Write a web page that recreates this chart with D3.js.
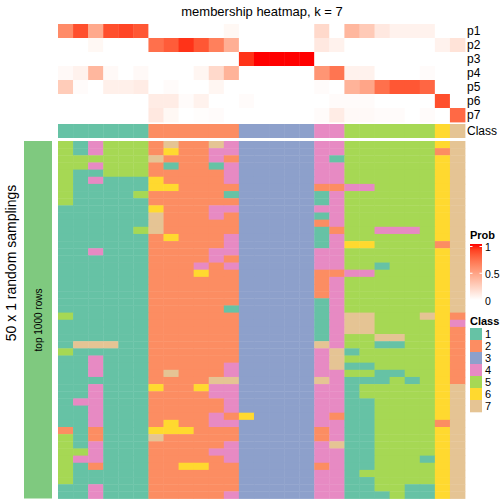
<!DOCTYPE html>
<html><head><meta charset="utf-8">
<script src="https://cdn.jsdelivr.net/npm/d3@7"></script>
<style>body{margin:0;background:#fff}</style>
</head><body>
<svg id="c" width="504" height="504"></svg>
<script>
// ---- data ----
const classes = [1,2,3,4,5,6,7];
const classColors = ["#66C2A5","#FC8D62","#8DA0CB","#E78AC3","#A6D854","#FFD92F","#E5C494"];
const probNames = ["p1","p2","p3","p4","p5","p6","p7"];
const p1 = [0.6,0.85,0.45,0.85,0.88,0.82, 0,0,0,0,0,0.04, 0,0,0,0,0, 0.2,0, 0.38,0.28,0.12,0.07,0.07,0.07, 0,0];
const p2 = [0,0,0.04,0,0,0, 0.72,0.8,0.93,0.82,0.65,0.42, 0,0,0,0,0, 0.12,0.07, 0,0,0,0,0,0, 0.07,0.15];
const p3 = [0,0,0,0,0,0, 0,0,0,0,0,0, 0.93,1,1,1,1, 0,0, 0,0,0,0,0,0, 0,0];
const p4 = [0.03,0.07,0.38,0.03,0,0.03, 0,0,0,0.05,0.2,0.4, 0,0,0,0,0, 0.55,0.7, 0.07,0.07,0,0,0,0.02, 0,0];
const p5 = [0.27,0.02,0,0.08,0.08,0.1, 0,0.02,0,0,0.05,0, 0,0,0,0,0, 0.02,0, 0.4,0.47,0.72,0.82,0.82,0.76, 0,0];
const p6 = [0,0,0,0,0,0, 0.1,0.1,0.02,0.07,0,0, 0.02,0,0,0,0, 0,0.02, 0.02,0.02,0,0,0,0, 0.85,0];
const p7 = [0,0,0,0,0,0, 0.12,0.04,0,0.01,0.02,0, 0,0,0,0,0, 0.02,0.1, 0.03,0.03,0.02,0.02,0,0.02, 0,0.75];
const columnClass = [1,1,1,1,1,1, 2,2,2,2,2,2, 3,3,3,3,3, 4,4, 5,5,5,5,5,5, 6, 7];
// class assignment for each of the 50 random samplings (rows) x 27 samples (columns)
const samplingRows = [
"514555 272274 33333 44 555555 6 7",
"514555 262244 33333 44 555555 2 7",
"555555 722242 33333 41 555555 6 7",
"554555 212214 33333 44 555555 6 7",
"511555 222224 33333 44 555555 6 7",
"514111 622224 33333 44 555555 6 7",
"511111 662222 33333 22 445555 6 7",
"511115 222221 33333 14 555555 6 7",
"511111 222222 33333 14 555555 6 7",
"111111 622244 33333 44 555555 6 7",
"111111 722242 33333 14 555555 6 7",
"111111 722222 33333 24 555555 6 7",
"111115 722222 33333 12 554445 6 7",
"111111 262224 33333 14 555555 6 7",
"111111 222224 33333 14 665555 2 7",
"114111 222244 33333 44 555555 6 7",
"111111 222242 33333 44 555555 6 7",
"111111 222424 33333 44 551555 6 7",
"111111 222622 33333 22 445555 6 7",
"111111 222222 33333 24 555555 6 7",
"111111 222222 33333 24 555555 6 7",
"111111 222222 33333 24 555555 6 7",
"111111 222222 33333 14 555555 6 7",
"111111 222221 33333 14 555555 6 7",
"511111 222222 33333 14 775557 6 2",
"111111 222222 33333 14 775555 6 4",
"111111 222222 33333 14 775555 6 2",
"111111 222222 33333 14 557755 6 2",
"177711 222222 33333 74 551155 6 2",
"511111 222222 33333 47 155555 6 2",
"114111 222222 33333 47 555555 6 2",
"114111 222224 33333 47 115555 6 2",
"114111 272224 33333 44 551155 6 2",
"111111 222277 33333 74 111515 6 2",
"114111 622644 33333 44 155555 6 7",
"114111 222244 33333 44 155555 6 7",
"144111 222224 33333 44 115555 6 7",
"114111 222224 33333 44 115555 6 7",
"114111 222242 63333 42 115555 6 7",
"114111 262244 33333 44 115555 2 7",
"212111 666222 33333 24 115555 6 7",
"512111 722222 33333 24 115555 6 7",
"514111 222224 33333 47 115555 6 7",
"554111 222244 33333 44 115555 6 7",
"544111 222224 33333 44 115551 6 7",
"512111 226622 33333 24 115555 6 7",
"511111 222222 33333 44 155555 6 7",
"511111 222222 33333 44 115555 6 7",
"114111 222222 33333 44 115511 6 7",
"114111 222224 33333 44 111511 6 7"
];
const legendTicks = [0, 0.5, 1];
const titleText = "membership heatmap, k = 7";

// ---- drawing ----
const svg = d3.select("#c");
const font = "'Liberation Sans', Arial, sans-serif";
const nCol = columnClass.length;
const probMatrix = [p1,p2,p3,p4,p5,p6,p7];
const grid = samplingRows.map(s => s.replace(/\s+/g,"").split("").map(Number));

const x = d3.scaleBand().domain(d3.range(nCol)).range([58, 465]);
const yP = d3.scaleBand().domain(probNames).range([24, 122]);
const yR = d3.scaleBand().domain(d3.range(grid.length)).range([141, 498.5]);
const cCol = d3.scaleOrdinal().domain(classes).range(classColors);
const pCol = d3.scaleLinear().domain([0,1]).range(["#FFFFFF","#FF0000"]).interpolate(d3.interpolateLab);

svg.append("rect").attr("width",504).attr("height",504).attr("fill","#fff");

// title
svg.append("text").attr("x", 262).attr("y", 16).attr("text-anchor","middle")
  .attr("font-family", font).attr("font-size", 13).text(titleText);

// probability annotation
const ov = 0.4;
probNames.forEach((nm, r) => {
  svg.append("g").selectAll("rect").data(probMatrix[r]).join("rect")
    .attr("x", (d,i) => x(i)).attr("y", yP(nm))
    .attr("width", x.bandwidth()+ov).attr("height", yP.bandwidth()+ov)
    .attr("fill", d => pCol(d));
  svg.append("text").attr("x", 467).attr("y", yP(nm)+yP.bandwidth()/2).attr("dy","0.35em")
    .attr("font-family", font).attr("font-size", 12).text(nm);
});
// class annotation
svg.append("g").selectAll("rect").data(columnClass).join("rect")
  .attr("x", (d,i) => x(i)).attr("y", 124)
  .attr("width", x.bandwidth()+ov).attr("height", 14)
  .attr("fill", d => cCol(d));
svg.append("text").attr("x", 467).attr("y", 131).attr("dy","0.35em")
  .attr("font-family", font).attr("font-size", 12).text("Class");

// main heatmap
const cells = [];
grid.forEach((row, r) => row.forEach((v, c) => cells.push({r, c, v})));
svg.append("g").selectAll("rect").data(cells).join("rect")
  .attr("x", d => x(d.c)).attr("y", d => yR(d.r))
  .attr("width", x.bandwidth()+ov).attr("height", yR.bandwidth()+ov)
  .attr("fill", d => cCol(d.v));

// left slice bar
svg.append("rect").attr("x", 24).attr("y", 141).attr("width", 28).attr("height", 357.5).attr("fill", "#7FC97F");
svg.append("text").attr("transform", "translate(38,320) rotate(-90)").attr("text-anchor","middle")
  .attr("dy","0.35em").attr("font-family", font).attr("font-size", 10).text("top 1000 rows");
svg.append("text").attr("transform", "translate(11,263) rotate(-90)").attr("text-anchor","middle")
  .attr("dy","0.35em").attr("font-family", font).attr("font-size", 14).text("50 x 1 random samplings");

// legends
const lx = 470;
svg.append("text").attr("x", lx).attr("y", 239).attr("font-family", font).attr("font-size", 11)
  .attr("font-weight","bold").text("Prob");
const defs = svg.append("defs");
const grad = defs.append("linearGradient").attr("id","pg").attr("x1",0).attr("y1",1).attr("x2",0).attr("y2",0);
d3.range(0, 1.0001, 0.1).forEach(t => grad.append("stop").attr("offset", t).attr("stop-color", pCol(t)));
const ly = d3.scaleLinear().domain([0,1]).range([301, 247.5]);
svg.append("rect").attr("x", lx).attr("y", 244).attr("width", 12).attr("height", 56).attr("fill","url(#pg)");
legendTicks.forEach(t => {
  const yy = ly(t);
  if (t > 0) {
    svg.append("line").attr("x1", lx).attr("x2", lx+2.5).attr("y1", yy-1).attr("y2", yy-1).attr("stroke","#fff").attr("stroke-width",1);
    svg.append("line").attr("x1", lx+9.5).attr("x2", lx+12).attr("y1", yy-1).attr("y2", yy-1).attr("stroke","#fff").attr("stroke-width",1);
  }
  svg.append("text").attr("x", lx+15).attr("y", yy).attr("dy","0.35em").attr("font-family", font)
    .attr("font-size", 10.5).text(t);
});
svg.append("text").attr("x", lx).attr("y", 325).attr("font-family", font).attr("font-size", 11)
  .attr("font-weight","bold").text("Class");
const ls = d3.scaleBand().domain(classes).range([328, 412]);
svg.append("g").selectAll("rect").data(classes).join("rect")
  .attr("x", lx).attr("y", d => ls(d)).attr("width", 12).attr("height", ls.bandwidth()+0.3)
  .attr("fill", d => cCol(d));
svg.append("g").selectAll("text").data(classes).join("text")
  .attr("x", lx+15).attr("y", d => ls(d)+ls.bandwidth()/2).attr("dy","0.35em")
  .attr("font-family", font).attr("font-size", 11).text(d => d);
</script></body></html>
